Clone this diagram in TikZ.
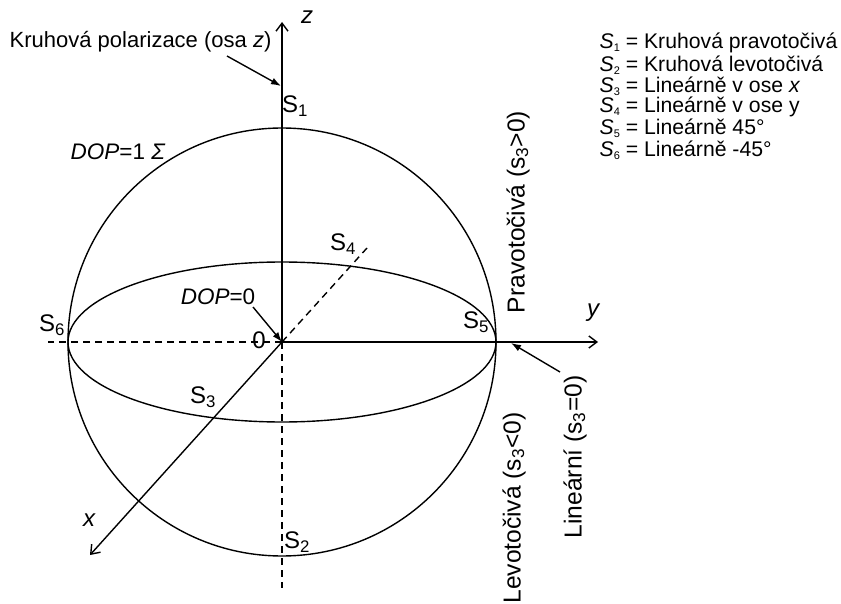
\documentclass[tikz,border=0pt]{standalone}
\usepackage{fontspec}
\setmainfont{Liberation Sans}
\usetikzlibrary{arrows.meta}
\newcommand\lblS[1]{S\textsubscript{#1}}
\newcommand\legS[1]{\textit{S}\raisebox{-0.3ex}{\fontsize{11}{11}\selectfont #1}}
\begin{document}
\begin{tikzpicture}[x=1pt,y=-1pt, line width=1.4pt,
  big/.style={font=\fontsize{24}{28}\selectfont, inner sep=0pt},
  vert/.style={font=\fontsize{24.6}{28}\selectfont, inner sep=0pt, rotate=90},
  ital/.style={font=\fontsize{24}{28}\selectfont\itshape, inner sep=0pt},
  dop/.style={font=\fontsize{22.5}{26}\selectfont, inner sep=0pt},
  small/.style={font=\fontsize{22}{24}\selectfont, inner sep=0pt},
  legend/.style={font=\fontsize{21.2}{24}\selectfont, inner sep=0pt, anchor=west},
  axis/.style={-{Straight Barb[length=8pt,width=12pt]}},
  pointer/.style={-{Latex[length=10pt,width=7pt]}},
  dashedline/.style={dash pattern=on 7pt off 5pt}]
\useasboundingbox (0,0) rectangle (841,604);
\coordinate (O) at (282,342);
\coordinate (ztop) at (282,22);
\coordinate (zbot) at (282,588);
\coordinate (ytip) at (598,342);
\coordinate (yleft) at (48,342);
\coordinate (xtip) at (90,555);
\coordinate (xdash) at (367,248);
% sphere and equator
\draw (O) circle[radius=214pt];
\draw (O) ellipse[x radius=214pt, y radius=80pt];
% axes
\draw[axis] (O) -- (ztop);
\draw[dashedline] (O) -- (zbot);
\draw[axis] (O) -- (ytip);
\draw[dashedline] (O) -- (yleft);
\draw[axis] (O) -- (xtip);
\draw[dashedline] (O) -- (xdash);
% axis labels
\node[ital] (zl) at (307,17) {z};
\node[ital] (yl) at (593,313) {y};
\node[ital] (xl) at (89,520) {x};
% point labels
\node[big] (s1) at (295,106) {\lblS{1}};
\node[big] (s2) at (297,542) {\lblS{2}};
\node[big] (s3) at (203,397) {\lblS{3}};
\node[big] (s4) at (343,244) {\lblS{4}};
\node[big] (s5) at (476,322) {\lblS{5}};
\node[big] (s6) at (52,325) {\lblS{6}};
\node[big] (zero) at (259,340) {0};
% annotations
\node[small, anchor=west] (kruh) at (9,42) {Kruhová polarizace (osa \textit{z})};
\coordinate (kt) at (227,56);
\coordinate (kp) at (281,86);
\draw[pointer] (kt) -- (kp);
\node[dop] (dop1) at (118,152) {\textit{DOP}=1 \textit{Σ}};
\node[dop] (dop0) at (218,297) {\textit{DOP}=0};
\coordinate (dt) at (253,307);
\draw[pointer] (dt) -- (O);
\node[vert] (prav) at (518,212) {Pravotočivá (s\textsubscript{3}>0)};
\node[vert] (levo) at (514,508) {Levotočivá (s\textsubscript{3}<0)};
\node[vert] (lin) at (575,457) {Lineární (s\textsubscript{3}=0)};
\coordinate (lt) at (560,372);
\coordinate (lp) at (511,343);
\draw[pointer] (lt) -- (lp);
% legend
\node[legend] (l1) at (599,43) {\legS{1} = Kruhová pravotočivá};
\node[legend] (l2) at (599,65) {\legS{2} = Kruhová levotočivá};
\node[legend] (l3) at (599,86) {\legS{3} = Lineárně v ose \textit{x}};
\node[legend] (l4) at (599,107) {\legS{4} = Lineárně v ose y};
\node[legend] (l5) at (599,128) {\legS{5} = Lineárně 45°};
\node[legend] (l6) at (599,150) {\legS{6} = Lineárně -45°};
\end{tikzpicture}
\end{document}
